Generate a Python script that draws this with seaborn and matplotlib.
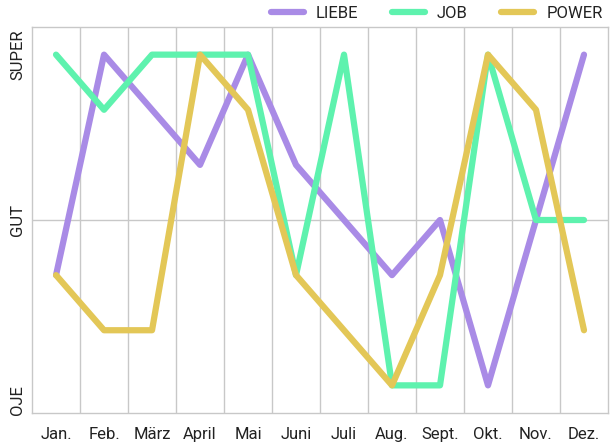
import pandas as pd
import seaborn as sns
import matplotlib.pyplot as plt

months = ["Jan.", "Feb.", "März", "April", "Mai", "Juni", "Juli", "Aug.", "Sept.", "Okt.", "Nov.", "Dez."]
liebe = [2, 6, 5, 4, 6, 4, 3, 2, 3, 0, 3, 6]
job = [6, 5, 6, 6, 6, 2, 6, 0, 0, 6, 3, 3]
power = [2, 1, 1, 6, 5, 2, 1, 0, 2, 6, 5, 1]
ytick_vals = [0, 3, 6]
ytick_labels = ["OJE", "GUT", "SUPER"]

df = pd.DataFrame({"Monat": months * 3,
                   "Wert": liebe + job + power,
                   "Serie": ["LIEBE"] * 12 + ["JOB"] * 12 + ["POWER"] * 12})
palette = {"LIEBE": "#A98BE6", "JOB": "#5EF2AE", "POWER": "#E3C757"}

sns.set_style("white")
plt.rcParams["font.family"] = ["Roboto", "DejaVu Sans"]
plt.rcParams["text.color"] = "#222222"

fig = plt.figure(figsize=(6.16, 4.44), dpi=100)
ax = fig.add_axes([0.052, 0.07, 0.935, 0.869])

ax.axhline(3, color="#c8c8c8", lw=1, zorder=0)
for i in range(len(months) - 1):
    ax.axvline(i + 0.5, color="#c8c8c8", lw=1, zorder=0)

sns.lineplot(data=df, x="Monat", y="Wert", hue="Serie", palette=palette,
             sort=False, lw=4.5, ax=ax)
for line in ax.lines:
    line.set_solid_capstyle("round")
    line.set_solid_joinstyle("round")

ax.set_xlim(-0.5, 11.5)
ax.set_ylim(-0.5, 6.5)
ax.set_xlabel("")
ax.set_ylabel("")
ax.set_yticks(ytick_vals)
ax.set_yticklabels(ytick_labels, rotation=90, va="center", fontsize=12)
ax.get_yticklabels()[0].set_va("top")
ax.tick_params(axis="x", labelsize=12, pad=10, length=0, labelcolor="#222222")
ax.tick_params(axis="y", pad=5, length=0, labelcolor="#222222")
for s in ax.spines.values():
    s.set_color("#c8c8c8")
    s.set_linewidth(1)

leg = ax.legend(loc="lower right", bbox_to_anchor=(1.005, 0.995), ncol=3, frameon=False,
                fontsize=12, handlelength=2.0, columnspacing=2.0, handletextpad=0.7,
                borderaxespad=0.1)
for h in leg.get_lines():
    h.set_linewidth(4.5)
    h.set_solid_capstyle("round")

fig.savefig("out.png", dpi=100)
